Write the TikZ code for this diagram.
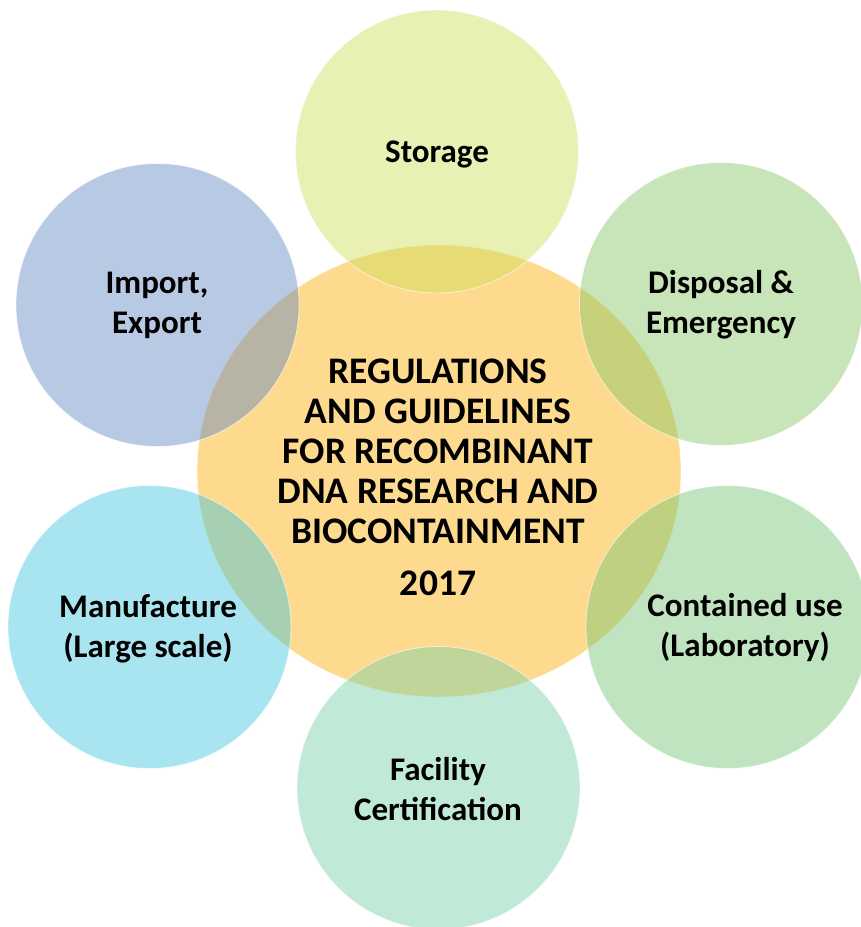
\documentclass[tikz,border=0pt]{standalone}
\usepackage{fontspec}
\setmainfont{Carlito}
\usepackage{tikz}

\definecolor{rdorange}{RGB}{254,218,142}
\definecolor{rdstorage}{RGB}{204,222,89}
\definecolor{rdimport}{RGB}{98,135,195}
\definecolor{rddisposal}{RGB}{133,196,100}
\definecolor{rdcontained}{RGB}{115,196,115}
\definecolor{rdmanufacture}{RGB}{62,198,222}
\definecolor{rdfacility}{RGB}{115,207,169}

\tikzset{
  petal/.style={fill=#1, fill opacity=0.45, draw=white, draw opacity=0.6, line width=0.8pt},
  hub/.style={fill=rdorange, draw=white, draw opacity=0.6, line width=0.8pt},
  lbl/.style={font=\bfseries\fontsize{33}{40}\selectfont, align=center, text=black},
  biglbl/.style={font=\bfseries\fontsize{37.5}{40}\selectfont, align=center, text=black}
}

\begin{document}
\begin{tikzpicture}[x=1pt, y=-1pt]
\useasboundingbox (0,0) rectangle (861,927);
\clip (0,0) rectangle (861,927);
% centre
\filldraw [hub] (439,471) ellipse (242pt and 226pt);
% surrounding circles
\filldraw [petal=rdstorage] (437,151.5) circle (141.5pt);
\filldraw [petal=rdimport] (157.5,305) circle (141.5pt);
\filldraw [petal=rddisposal] (721,304) circle (141.5pt);
\filldraw [petal=rdmanufacture] (149.5,627) circle (141.5pt);
\filldraw [petal=rdcontained] (727.5,627) circle (141.5pt);
\filldraw [petal=rdfacility] (438.5,788) circle (141.5pt);
% labels
\node [lbl] (storage) at (437,154) {Storage};
\node [lbl] (import) at (157,305) {Import,\\Export};
\node [lbl] (disposal) at (721,305) {Disposal \&\\Emergency};
\node [lbl] (manufacture) at (148,629) {Manufacture\\(Large scale)};
\node [lbl] (contained) at (745,628) {Contained use\\(Laboratory)};
\node [lbl] (facility) at (438,789) {Facility\\Certification};
\node [biglbl] (rules) at (438,451) {REGULATIONS\\AND GUIDELINES\\FOR RECOMBINANT\\DNA RESEARCH AND\\BIOCONTAINMENT};
\node [biglbl] (year) at (438,583) {2017};
\end{tikzpicture}
\end{document}
